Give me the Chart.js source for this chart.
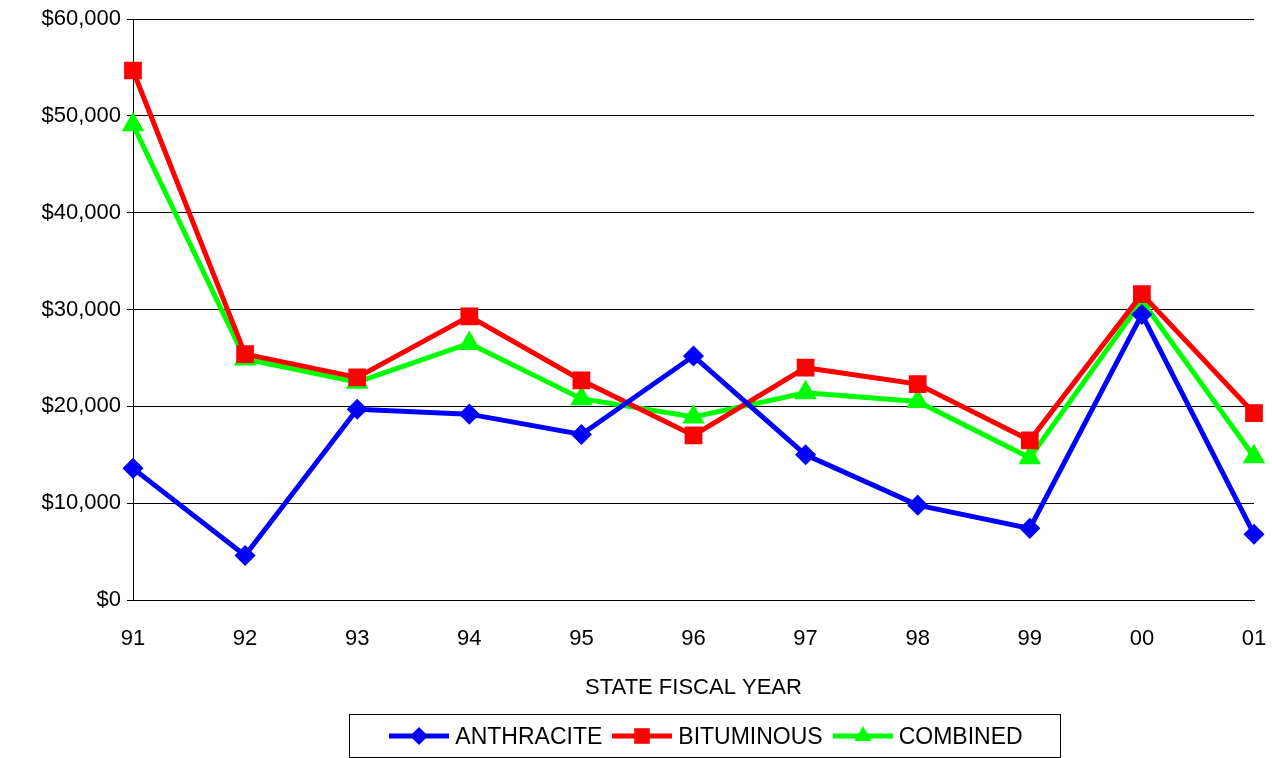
<!DOCTYPE html>
<html>
<head>
<meta charset="utf-8">
<script src="https://cdn.jsdelivr.net/npm/chart.js@4"></script>
<style>
  body { margin: 0; background: #fff; }
  #wrap { width: 1272px; height: 758px; position: relative; }
  #legend { position: absolute; left: 349px; top: 714px; width: 712px; height: 44px; border: 1px solid #000;
            box-sizing: border-box; display: flex; align-items: center; justify-content: center;
            font: 23px "Liberation Sans", Arial, sans-serif; }
  .item { display: flex; align-items: center; margin: 0 4px; }
  .item canvas { margin-right: 4px; }
</style>
</head>
<body>
<div id="wrap"><canvas id="myChart"></canvas><div id="legend"></div></div>
<script>
var years = ['91', '92', '93', '94', '95', '96', '97', '98', '99', '00', '01'];
var anthracite = [13600, 4600, 19700, 19200, 17100, 25200, 15000, 9800, 7400, 29500, 6800];
var bituminous = [54700, 25400, 23000, 29300, 22700, 17000, 24000, 22300, 16500, 31600, 19300];
var combined = [49100, 24900, 22500, 26500, 20800, 18900, 21400, 20500, 14700, 30900, 14800];

Chart.defaults.font.family = '"Liberation Sans", Arial, sans-serif';
Chart.defaults.font.size = 22;
Chart.defaults.color = '#000';

function ds(label, data, color, style, radius) {
    return {
        label: label,
        data: data,
        borderColor: color,
        backgroundColor: color,
        borderWidth: 5,
        pointStyle: style,
        pointRadius: radius,
        pointHoverRadius: radius,
        tension: 0
    };
}

var chart = new Chart(document.getElementById('myChart').getContext('2d'), {
    type: 'line',
    data: {
        labels: years,
        datasets: [
            ds('ANTHRACITE', anthracite, '#0000ff', 'rectRot', 7),
            ds('BITUMINOUS', bituminous, '#ff0000', 'rect', 9),
            ds('COMBINED', combined, '#00ff00', 'triangle', 8)
        ]
    },
    options: {
        responsive: true,
        maintainAspectRatio: false,
        animation: false,
        layout: { padding: { left: 0, right: 18, top: 16, bottom: 53 } },
        plugins: { legend: { display: false }, tooltip: { enabled: false } },
        scales: {
            x: {
                offset: false,
                afterFit: function(s) { s.height = 105; s.paddingRight = 0; s.paddingLeft = 0; },
                grid: { display: false, drawTicks: true, tickColor: '#000', tickLength: 6 },
                border: { color: '#000' },
                ticks: { padding: 20, maxRotation: 0, minRotation: 0 },
                title: { display: true, text: 'STATE FISCAL YEAR', padding: { top: 11 } }
            },
            y: {
                min: 0,
                max: 60000,
                afterFit: function(s) { s.width = 133; },
                ticks: {
                    stepSize: 10000,
                    padding: 6,
                    callback: function(v) { return '$' + v.toLocaleString('en-US'); }
                },
                grid: { color: '#000', tickLength: 6 },
                border: { color: '#000' }
            }
        }
    }
});

// legenda w HTML
var legend = document.getElementById('legend');
chart.data.datasets.forEach(function(d) {
    var item = document.createElement('div');
    item.className = 'item';
    var c = document.createElement('canvas');
    c.width = 64; c.height = 26;
    var x = c.getContext('2d');
    x.strokeStyle = d.borderColor; x.lineWidth = 5;
    x.beginPath(); x.moveTo(2, 13); x.lineTo(62, 13); x.stroke();
    x.fillStyle = d.backgroundColor;
    Chart.helpers.drawPoint(x, { pointStyle: d.pointStyle, radius: d.pointRadius + 2, borderWidth: 0 }, 32, 13);
    item.appendChild(c);
    var t = document.createElement('span');
    t.textContent = d.label;
    item.appendChild(t);
    legend.appendChild(item);
});
</script>
</body>
</html>
